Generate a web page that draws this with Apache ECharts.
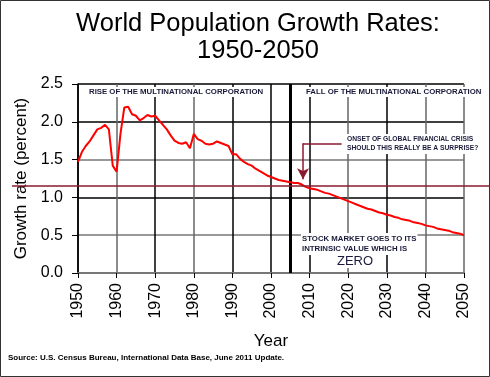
<!DOCTYPE html>
<html>
<head>
<meta charset="utf-8">
<script src="https://cdn.jsdelivr.net/npm/echarts@6/dist/echarts.min.js"></script>
<style>
  html, body { margin: 0; padding: 0; background: #fff; }
  #chart { width: 490px; height: 377px; }
</style>
</head>
<body>
<div id="chart"></div>
<script>
// growth rate (percent), one value per year 1950..2050
var years = [];
for (var y = 1950; y <= 2050; y++) years.push(y);

var growthRate = [
  1.47, 1.60, 1.68, 1.74, 1.82, 1.90, 1.92, 1.96, 1.90, 1.42,  // 1950-1959
  1.34, 1.84, 2.19, 2.20, 2.10, 2.08, 2.02, 2.05, 2.09, 2.07,  // 1960-1969
  2.08, 2.02, 1.96, 1.90, 1.82, 1.75, 1.72, 1.71, 1.73, 1.65,  // 1970-1979
  1.84, 1.77, 1.75, 1.71, 1.70, 1.71, 1.74, 1.72, 1.70, 1.68,  // 1980-1989
  1.57, 1.57, 1.51, 1.47, 1.44, 1.42, 1.38, 1.35, 1.32, 1.29,  // 1990-1999
  1.27, 1.25, 1.23, 1.22, 1.21, 1.20, 1.19, 1.19, 1.17, 1.14,  // 2000-2009
  1.12, 1.11, 1.10, 1.08, 1.06, 1.05, 1.03, 1.01, 0.99, 0.97,  // 2010-2019
  0.95, 0.93, 0.91, 0.89, 0.87, 0.85, 0.84, 0.82, 0.80, 0.79,  // 2020-2029
  0.77, 0.76, 0.74, 0.73, 0.71, 0.70, 0.69, 0.67, 0.66, 0.65,  // 2030-2039
  0.63, 0.62, 0.61, 0.59, 0.58, 0.57, 0.56, 0.54, 0.53, 0.52,  // 2040-2049
  0.50                                                          // 2050
];

var splitYear = 2005;        // thick black divider
var thresholdRate = 1.15;    // dark red reference line
var arrowStart = [2008.3, 1.715];
var arrowElbow = [2018.3, 1.715];
var arrowTip = [2008.3, 1.24];

var seriesData = years.map(function (yr, i) { return [yr, growthRate[i]]; });

var txtColor = '#1a1a3a';
var darkRed = '#8b1a2e';

var chart = echarts.init(document.getElementById('chart'));

var option = {
  backgroundColor: '#fff',
  animation: false,
  title: {
    text: 'World Population Growth Rates:\n1950-2050',
    left: 253,
    top: 5,
    textAlign: 'center',
    textStyle: {
      fontFamily: 'Liberation Sans, Arial',
      fontSize: 25.5,
      fontWeight: 'normal',
      color: '#000',
      lineHeight: 27
    }
  },
  grid: { left: 78, right: 26, top: 84, bottom: 104 },
  xAxis: {
    type: 'value',
    min: 1950,
    max: 2050,
    interval: 10,
    name: 'Year',
    nameLocation: 'middle',
    nameGap: 60,
    nameTextStyle: { fontFamily: 'Liberation Sans, Arial', fontSize: 17, color: '#000' },
    axisLine: { show: true, lineStyle: { color: '#777', width: 2 } },
    axisTick: { show: true, length: 5, lineStyle: { color: '#000' } },
    axisLabel: {
      rotate: 90,
      margin: 10,
      fontFamily: 'Liberation Sans, Arial',
      fontSize: 16,
      color: '#000',
      formatter: function (v) { return String(v); }
    },
    splitLine: {
      show: true,
      lineStyle: {
        width: 1.5,
        color: ['#000', '#666', '#000', '#666', '#000', '#000', '#000', '#666', '#000', '#666', '#666']
      }
    }
  },
  yAxis: {
    type: 'value',
    min: 0,
    max: 2.5,
    interval: 0.5,
    name: 'Growth rate (percent)',
    nameLocation: 'middle',
    nameGap: 47,
    nameTextStyle: { fontFamily: 'Liberation Sans, Arial', fontSize: 17, color: '#000' },
    axisLine: { show: true, lineStyle: { color: '#000', width: 1.5 } },
    axisTick: { show: true, length: 6, lineStyle: { color: '#000' } },
    axisLabel: {
      margin: 15,
      fontFamily: 'Liberation Sans, Arial',
      fontSize: 16,
      color: '#000',
      formatter: function (v) { return v.toFixed(1); }
    },
    splitLine: {
      show: true,
      lineStyle: {
        width: 1.5,
        color: ['#777', '#777', '#000', '#777', '#000', '#000']
      }
    }
  },
  series: [
    {
      type: 'line',
      data: seriesData,
      showSymbol: false,
      lineStyle: { color: '#ff0000', width: 2 },
      z: 5,
      markLine: {
        silent: true,
        symbol: 'none',
        label: { show: false },
        data: [
          { xAxis: splitYear, lineStyle: { color: '#000', width: 3, type: 'solid' } },
          [
            { coord: arrowElbow, symbol: 'none' },
            { coord: arrowStart, symbol: 'none' }
          ],
          [
            { coord: arrowStart, symbol: 'none' },
            { coord: arrowTip, symbol: 'arrow', symbolSize: [9, 11] }
          ]
        ],
        lineStyle: { color: darkRed, width: 1.5, type: 'solid' }
      }
    }
  ]
};

chart.setOption(option);

var yRef = chart.convertToPixel({ yAxisIndex: 0 }, thresholdRate);

var smallFont = 'bold 7.8px "Liberation Sans", Arial';
chart.setOption({
  graphic: [
    { type: 'rect', shape: { x: 0.5, y: 0.5, width: 489, height: 376 },
      style: { fill: 'none', stroke: '#333', lineWidth: 1 }, z: 100 },
    { type: 'line', shape: { x1: 12, y1: yRef, x2: 490, y2: yRef },
      style: { stroke: darkRed, lineWidth: 1.5 }, z: 50 },
    { type: 'text', left: 88, top: 87, z: 60,
      style: { text: 'RISE OF THE MULTINATIONAL CORPORATION', font: smallFont, fill: txtColor,
               backgroundColor: '#fff', padding: [1, 1] } },
    { type: 'text', left: 303, top: 87, z: 60,
      style: { text: 'FALL OF THE MULTINATIONAL CORPORATION', font: smallFont, fill: txtColor,
               backgroundColor: '#fff', padding: [1, 3] } },
    { type: 'text', left: 346, top: 134, z: 60,
      style: { text: 'ONSET OF GLOBAL FINANCIAL CRISIS\nSHOULD THIS REALLY BE A SURPRISE?',
               font: 'bold 6.7px "Liberation Sans", Arial', lineHeight: 9, fill: txtColor,
               backgroundColor: '#fff', padding: [1, 1] } },
    { type: 'text', left: 301, top: 233, z: 60,
      style: { text: 'STOCK MARKET GOES TO ITS\nINTRINSIC VALUE WHICH IS',
               font: 'bold 7.8px "Liberation Sans", Arial', lineHeight: 10, fill: txtColor,
               backgroundColor: '#fff', padding: [1, 1] } },
    { type: 'text', left: 336, top: 255, z: 60,
      style: { text: 'ZERO', font: '13px "Liberation Sans", Arial', fill: txtColor,
               backgroundColor: '#fff', padding: [0, 1] } },
    { type: 'text', left: 8, top: 354, z: 60,
      style: { text: 'Source: U.S. Census Bureau, International Data Base, June 2011 Update.',
               font: 'bold 8px "Liberation Sans", Arial', fill: '#000' } }
  ]
});
</script>
</body>
</html>
